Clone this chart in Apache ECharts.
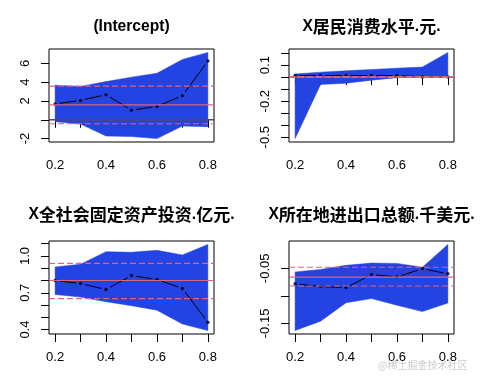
<!DOCTYPE html>
<html><head><meta charset="utf-8">
<script src="https://cdn.jsdelivr.net/npm/echarts@6/dist/echarts.min.js"></script>
<style>html,body{margin:0;padding:0;background:#fff}#c{width:480px;height:384px}</style>
</head><body><div id="c"></div>
<script>
// ---- data ----
const taus = [0.2, 0.3, 0.4, 0.5, 0.6, 0.7, 0.8];
const xTicks = [0.2, 0.3, 0.4, 0.5, 0.6, 0.7, 0.8];
const xTickLabels = [0.2, 0.4, 0.6, 0.8];

// (Intercept)
const est1 = [1.68, 2.06, 2.66, 1.01, 1.43, 2.56, 6.24];
const lo1  = [-0.20, -0.46, -1.73, -1.79, -2.00, -0.67, -0.74];
const hi1  = [3.68, 3.54, 4.06, 4.53, 4.95, 6.42, 7.16];
const ols1 = [1.58, -0.42, 3.58];          // estimate, lower, upper
const yTicks1 = [-2, 0, 2, 4, 6];
const yLabels1 = [-2, 2, 4, 6];

// X居民消费水平.元.
const est2 = [0.014, 0.014, 0.014, 0.014, 0.014, 0.002, 0.002];
const lo2  = [-0.511, -0.060, -0.050, -0.025, -0.004, 0.000, 0.000];
const hi2  = [0.027, 0.042, 0.053, 0.064, 0.075, 0.084, 0.206];
const ols2 = [0.002, -0.001, 0.005];
const yTicks2 = [-0.5, -0.4, -0.3, -0.2, -0.1, 0, 0.1, 0.2];
const yLabels2 = [-0.5, -0.2, 0.1];

// X全社会固定资产投资.亿元.
const est3 = [0.800, 0.775, 0.727, 0.840, 0.808, 0.735, 0.460];
const lo3  = [0.686, 0.665, 0.627, 0.595, 0.558, 0.445, 0.392];
const hi3  = [0.910, 0.933, 1.035, 1.030, 1.046, 1.008, 1.094];
const ols3 = [0.800, 0.652, 0.940];
const yTicks3 = [0.4, 0.5, 0.6, 0.7, 0.8, 0.9, 1.0, 1.1];
const yLabels3 = [0.4, 0.7, 1.0];

// X所在地进出口总额.千美元.
const est4 = [-0.078, -0.083, -0.085, -0.0614, -0.0655, -0.0507, -0.060];
const lo4  = [-0.163, -0.146, -0.1125, -0.105, -0.117, -0.1286, -0.113];
const hi4  = [-0.0566, -0.052, -0.0446, -0.0405, -0.041, -0.048, -0.0066];
const ols4 = [-0.066, -0.082, -0.048];
const yTicks4 = [-0.15, -0.10, -0.05];
const yLabels4 = [-0.15, -0.05];

const titles = [
  '(Intercept)',
  '{l|X}{c|居民消费水平}{l|.}{c|元}{l|.}',
  '{l|X}{c|全社会固定资产投资}{l|.}{c|亿元}{l|.}',
  '{l|X}{c|所在地进出口总额}{l|.}{c|千美元}{l|.}'
];

// ---- styling / layout ----
const BLUE = '#2343e3';
const RED = '#dc6480';
const LATIN = '"Liberation Sans", Arial, sans-serif';
const CJK = '"Noto Sans CJK SC", sans-serif';

const panels = [
  {est: est1, lo: lo1, hi: hi1, ols: ols1, ticks: yTicks1, labels: yLabels1, dec: 0},
  {est: est2, lo: lo2, hi: hi2, ols: ols2, ticks: yTicks2, labels: yLabels2, dec: 1},
  {est: est3, lo: lo3, hi: hi3, ols: ols3, ticks: yTicks3, labels: yLabels3, dec: 1},
  {est: est4, lo: lo4, hi: hi4, ols: ols4, ticks: yTicks4, labels: yLabels4, dec: 2}
];
const gridPos = [
  {left: 49, top: 49}, {left: 289, top: 49},
  {left: 49, top: 241}, {left: 289, top: 241}
];
const titlePos = [
  {x: 131.5, y: 19}, {x: 371.5, y: 18},
  {x: 131.5, y: 206}, {x: 371.5, y: 206}
];

function rng(arr) {
  const mn = Math.min.apply(null, arr), mx = Math.max.apply(null, arr);
  const e = (mx - mn) * 0.04;
  return [mn - e, mx + e];
}
const xr = rng(taus);

const grid = [], xAxis = [], yAxis = [], series = [], title = [];

panels.forEach((p, k) => {
  grid.push({left: gridPos[k].left, top: gridPos[k].top, width: 165, height: 93,
    show: true, borderColor: '#000', borderWidth: 1, backgroundColor: 'transparent',
    containLabel: false, outerBoundsMode: 'none'});
  xAxis.push({type: 'value', gridIndex: k, min: xr[0], max: xr[1],
    axisLine: {show: false}, splitLine: {show: false},
    axisTick: {show: true, length: 8, customValues: xTicks, lineStyle: {color: '#000', width: 1}},
    axisLabel: {customValues: xTickLabels, margin: 17, fontSize: 13, color: '#000', fontFamily: LATIN,
      formatter: v => Number(v).toFixed(1)}});
  const yr = rng(p.lo.concat(p.hi, p.ols.slice(1)));
  yAxis.push({type: 'value', gridIndex: k, min: yr[0], max: yr[1],
    axisLine: {show: false}, splitLine: {show: false},
    axisTick: {show: true, length: 8, customValues: p.ticks, lineStyle: {color: '#000', width: 1}},
    axisLabel: {customValues: p.labels, rotate: 90, margin: 17, fontSize: 13, color: '#000', fontFamily: LATIN,
      formatter: v => Number(v).toFixed(p.dec)}});

  // confidence band
  series.push({type: 'custom', xAxisIndex: k, yAxisIndex: k, z: 1, silent: true,
    data: taus.map((t, i) => [t, p.lo[i], p.hi[i]]),
    encode: {x: 0, y: [1, 2]},
    renderItem: function (params, api) {
      if (params.dataIndex !== 0) return;
      const pts = [];
      for (let i = 0; i < taus.length; i++) pts.push(api.coord([taus[i], p.hi[i]]));
      for (let i = taus.length - 1; i >= 0; i--) pts.push(api.coord([taus[i], p.lo[i]]));
      return {type: 'polygon', shape: {points: pts}, style: {fill: BLUE, stroke: BLUE, lineWidth: 0.5}};
    }});

  // estimate line segments (type "b": gaps around points)
  series.push({type: 'custom', xAxisIndex: k, yAxisIndex: k, z: 2, silent: true,
    data: taus.map((t, i) => [t, p.est[i]]),
    encode: {x: 0, y: 1},
    renderItem: function (params, api) {
      const i = params.dataIndex;
      if (i >= taus.length - 1) return;
      const a = api.coord([taus[i], p.est[i]]), b = api.coord([taus[i + 1], p.est[i + 1]]);
      const dx = b[0] - a[0], dy = b[1] - a[1], L = Math.hypot(dx, dy), g = 4.5;
      if (L <= 2 * g) return;
      const ux = dx / L, uy = dy / L;
      return {type: 'line', shape: {x1: a[0] + ux * g, y1: a[1] + uy * g, x2: b[0] - ux * g, y2: b[1] - uy * g},
        style: {stroke: '#000', lineWidth: 1}};
    }});

  // estimate points
  series.push({type: 'scatter', xAxisIndex: k, yAxisIndex: k, z: 3, silent: true,
    symbol: 'circle', symbolSize: 3.5, itemStyle: {color: '#000'},
    data: taus.map((t, i) => [t, p.est[i]])});

  // horizontal reference lines: zero (gray), OLS (red), OLS CI (red dashed)
  const hl = [];
  if (0 > yr[0] && 0 < yr[1]) hl.push([taus[0], 0, 0]);
  hl.push([taus[0], p.ols[0], 1], [taus[0], p.ols[1], 2], [taus[0], p.ols[2], 2]);
  series.push({type: 'custom', xAxisIndex: k, yAxisIndex: k, z: 4, silent: true,
    data: hl, encode: {x: 0, y: 1},
    renderItem: function (params, api) {
      const v = api.value(1), kind = api.value(2);
      const cs = params.coordSys;
      const y = api.coord([taus[0], v])[1];
      const style = kind === 0 ? {stroke: '#505050', lineWidth: 1.3}
        : kind === 1 ? {stroke: RED, lineWidth: 1.1}
        : {stroke: RED, lineWidth: 1.1, lineDash: [6, 3]};
      return {type: 'line', shape: {x1: cs.x, y1: y, x2: cs.x + cs.width, y2: y}, style: style};
    }});

  title.push({text: titles[k], left: titlePos[k].x, top: titlePos[k].y, textAlign: 'center', padding: 0,
    textStyle: {fontSize: 15.6, fontWeight: 'bold', color: '#000', fontFamily: LATIN,
      rich: {
        l: {fontSize: 15.6, fontWeight: 'bold', color: '#000', fontFamily: LATIN, verticalAlign: 'bottom'},
        c: {fontSize: 17, fontWeight: 'bold', color: '#000', fontFamily: CJK}
      }}});
});

const chart = echarts.init(document.getElementById('c'), null, {renderer: 'canvas'});
chart.setOption({
  animation: false,
  backgroundColor: '#fff',
  title: title,
  grid: grid, xAxis: xAxis, yAxis: yAxis, series: series,
  graphic: [{type: 'text', left: 378, top: 360, silent: true,
    style: {text: '@稀土掘金技术社区', fill: 'rgba(185,185,185,0.75)', font: '10px "Noto Sans CJK SC"'}}]
});
</script></body></html>
